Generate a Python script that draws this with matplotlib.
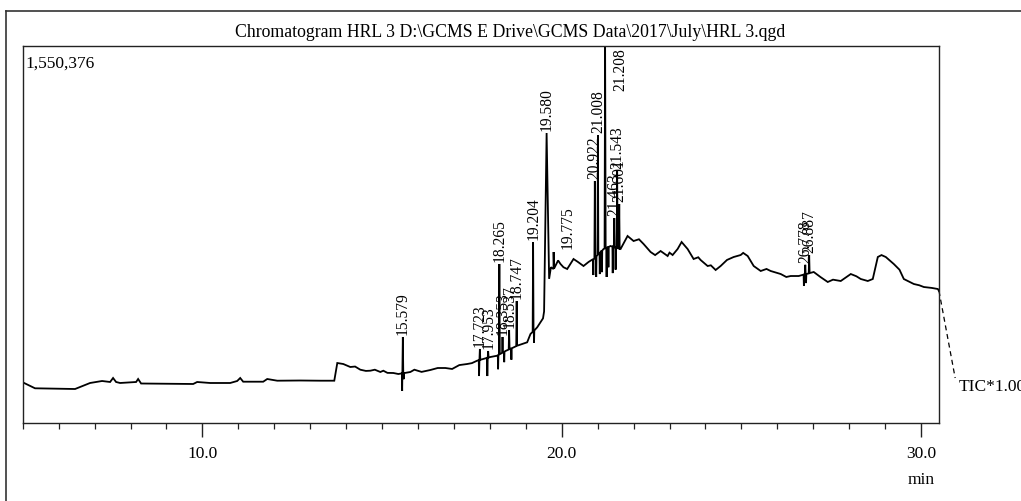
import numpy as np
import matplotlib
matplotlib.use("Agg")
import matplotlib.pyplot as plt
from matplotlib.lines import Line2D
from matplotlib.ticker import MultipleLocator, FixedLocator

plt.rcParams['font.family'] = ['Liberation Serif', 'DejaVu Serif']

# ---- chromatogram data (retention time in min, TIC intensity in counts) ----
base_time = [5.000, 5.343, 6.457, 6.596, 6.875, 7.209, 7.432, 7.515, 7.599, 7.710,
             8.156, 8.212, 8.295, 9.744, 9.855, 10.217, 10.774, 10.969, 11.053, 11.136,
             11.693, 11.805, 12.084, 12.724, 13.281, 13.671, 13.755, 13.922, 14.117, 14.396,
             14.674, 14.953, 15.036, 15.315, 15.454, 15.788, 16.345, 16.763, 17.368, 17.646,
             18.017, 18.203, 18.435, 18.760, 19.039, 19.131, 19.318, 19.480, 19.700, 19.772,
             19.967, 20.153, 20.329, 20.607, 20.886, 21.164, 21.359, 21.638, 21.833, 22.000,
             22.279, 22.474, 22.753, 22.948, 23.087, 23.226, 23.337, 23.504, 23.671, 23.866,
             24.061, 24.284, 24.423, 24.786, 24.981, 25.176, 25.343, 25.538, 25.816, 26.095,
             26.373, 26.596, 27.014, 27.404, 27.766, 28.045, 28.323, 28.518, 28.657, 28.797,
             29.019, 29.242, 29.521, 29.799, 30.078, 30.468, 30.500]
base_level = [167200, 142600, 139700, 147900, 164400, 172600, 168500, 184900, 168500, 164400,
              168500, 180800, 162300, 160300, 168500, 164400, 164400, 172600, 184900, 169700,
              169700, 180800, 173800, 174600, 173800, 173800, 246500, 242400, 230100, 219000,
              214900, 209600, 214900, 205500, 201300, 209600, 217800, 226000, 242400, 256000,
              271200, 276500, 295800, 317600, 331600, 365700, 393200, 430000, 640000, 632800,
              653300, 632800, 673900, 645100, 673900, 715000, 727300, 715000, 768400, 747800,
              735500, 702600, 706700, 686200, 690300, 715000, 743700, 715000, 673900, 669800,
              645100, 628700, 645100, 682100, 690300, 686200, 645100, 624600, 624600, 612200,
              604000, 604000, 620500, 579400, 583500, 612200, 591700, 583500, 591700, 682100,
              682100, 653300, 591700, 571200, 558800, 550600, 542400]

# small noise excursions riding on the baseline
wiggle_time = [14.25, 14.55, 14.80, 15.15, 15.90, 16.10, 16.55, 16.95, 17.15, 17.50,
               19.90, 20.05, 20.45, 20.75, 22.15, 22.60, 23.00, 23.80, 24.15, 24.60,
               25.05, 25.70, 26.25, 27.20, 27.55, 28.20, 28.90, 29.40, 29.95, 30.30]
wiggle_level = [232000, 214000, 219000, 206000, 219000, 210000, 226000, 222000, 238000, 246000,
                668000, 640000, 662000, 662000, 755000, 690000, 700000, 681000, 648000, 670000,
                699000, 633000, 600000, 600000, 589000, 603000, 690000, 630000, 566000, 555000]

# labelled peaks: retention time, apex intensity and half width at the base (min)
peak_time = [15.579, 17.723, 17.953, 18.265, 18.353, 18.537, 18.747, 19.204, 19.580, 19.775,
             20.922, 21.008, 21.208, 21.463, 21.543, 21.601, 26.778, 26.887]
peak_height = [353400, 304100, 295800, 653300, 353400, 382100, 501300, 743700, 1191600, 702600,
               994400, 1183400, 1550376, 842300, 1035500, 899900, 650000, 690000]
peak_halfwidth = [0.012, 0.012, 0.012, 0.012, 0.012, 0.012, 0.012, 0.012, 0.07, 0.012,
                  0.012, 0.012, 0.015, 0.012, 0.012, 0.012, 0.012, 0.012]
peak_label = ["15.579", "17.723", "17.953", "18.265", "18.353", "18.537", "18.747", "19.204",
              "19.580", "19.775", "20.922", "21.008", "21.208", "21.463", "21.543", "21.601",
              "26.778", "26.887"]

# negative-going noise spikes below the trace
dip_time = [15.560, 15.600, 17.700, 17.930, 18.230, 18.400, 18.600, 19.230, 20.880, 20.960,
            21.060, 21.120, 21.250, 21.300, 21.420, 21.500, 26.740, 26.800]
dip_level = [131500, 180000, 193000, 193000, 221000, 250000, 260000, 330000, 608000, 600000,
             612000, 620000, 600000, 640000, 616000, 630000, 563000, 575000]

y_top = 1550376
x_min, x_max = 5.0, 30.5

# ---- assemble the trace ----
pts = list(zip(base_time, base_level)) + list(zip(wiggle_time, wiggle_level))
for t, h, w in zip(peak_time, peak_height, peak_halfwidth):
    bl = np.interp(t - w, base_time, base_level)
    br = np.interp(t + w, base_time, base_level)
    pts += [(t - w, bl), (t, h), (t + w, br)]
for t, v in zip(dip_time, dip_level):
    b = np.interp(t, base_time, base_level)
    pts += [(t - 0.008, b), (t, v), (t + 0.008, b)]
pts.sort()
tt = np.array([p[0] for p in pts])
yy = np.array([p[1] for p in pts])

# ---- figure ----
W, H = 1021, 502
fig = plt.figure(figsize=(W / 100, H / 100), dpi=100)
l, r, b_, t_ = 22.7, 939.0, 424.0, 46.7
ax = fig.add_axes([l / W, 1 - b_ / H, (r - l) / W, (b_ - t_) / H])

ax.plot(tt, yy, color='black', lw=1.3, solid_joinstyle='miter')
ax.set_xlim(x_min, x_max)
ax.set_ylim(0, y_top)

for s in ax.spines.values():
    s.set_linewidth(1.0)
    s.set_color('#222222')

ax.yaxis.set_visible(False)
ax.xaxis.set_major_locator(FixedLocator([10, 20, 30]))
ax.xaxis.set_minor_locator(MultipleLocator(1))
ax.xaxis.set_major_formatter(lambda v, p: f"{v:.1f}")
ax.tick_params(axis='x', which='major', direction='out', length=10, width=1.0,
               labelsize=12.5, pad=6, color='#222222')
ax.tick_params(axis='x', which='minor', direction='out', length=4.5, width=0.9, color='#222222')

# peak labels
label_fs = 11.2
for t, h, s in zip(peak_time, peak_height, peak_label):
    if s == "21.208":
        ax.annotate(s, xy=(t, y_top), xytext=(11, -1), textcoords='offset points',
                    rotation=90, ha='center', va='top', fontsize=label_fs)
    elif s == "19.775":
        ax.annotate(s, xy=(t, h), xytext=(10, 3), textcoords='offset points',
                    rotation=90, ha='center', va='bottom', fontsize=label_fs)
    else:
        ax.annotate(s, xy=(t, h), xytext=(0, 2), textcoords='offset points',
                    rotation=90, ha='center', va='bottom', fontsize=label_fs)

# full-scale value
ax.text(0.003, 0.975, "1,550,376", transform=ax.transAxes, ha='left', va='top', fontsize=12.5)

# TIC trace tag with dashed leader
ax.plot([x_max, x_max + 0.45], [yy[-1], 185000], color='black', lw=0.9,
        ls=(0, (4, 3)), clip_on=False)
ax.text(x_max + 0.55, 150000, "TIC*1.00", ha='left', va='center', fontsize=12.5,
        clip_on=False)

# axis unit
ax.annotate("min", xy=(30, 0), xytext=(0, -40), textcoords='offset points',
            ha='center', va='center', fontsize=12.5, annotation_clip=False)

# title
fig.text(510 / W, 1 - 33 / H, r"Chromatogram HRL 3 D:\GCMS E Drive\GCMS Data\2017\July\HRL 3.qgd",
         ha='center', va='center', fontsize=12.8)

# outer frame
fig.add_artist(Line2D([6 / W, 6 / W], [0, 1 - 11.7 / H], color='#333333', lw=1.2))
fig.add_artist(Line2D([6 / W, 1], [1 - 11.7 / H, 1 - 11.7 / H], color='#333333', lw=1.2))

fig.savefig("out.png", dpi=100)
